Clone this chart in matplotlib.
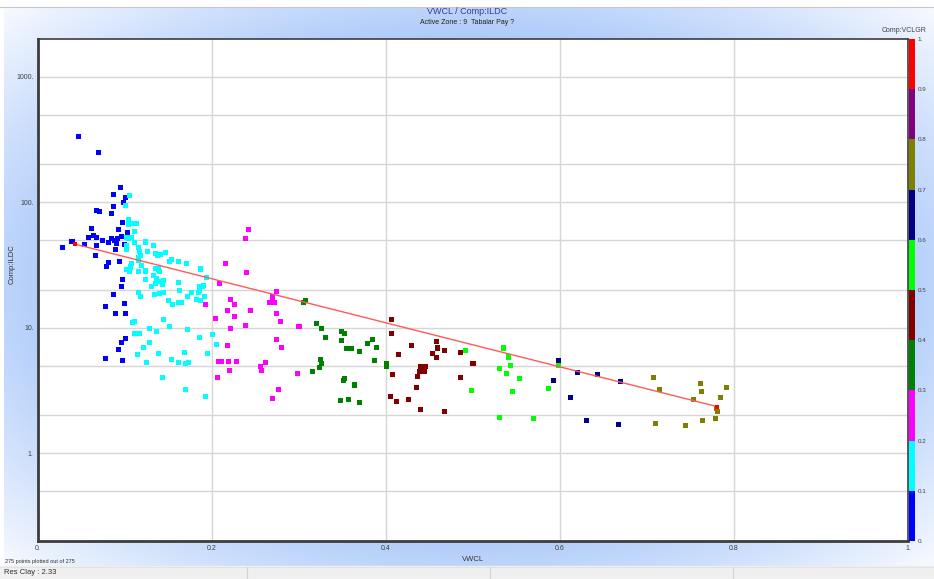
import numpy as np
import matplotlib.pyplot as plt
from matplotlib.colors import ListedColormap, BoundaryNorm
from matplotlib.patches import Rectangle

plt.rcParams['font.family'] = ['Liberation Sans', 'DejaVu Sans']

# Comp:VCLGR bins and their colours
bin_edges = [0, .1, .2, .3, .4, .5, .6, .7, .8, .9, 1.]
bin_colors = ['#0000ff', '#00ffff', '#ff00ff', '#008000', '#800000',
              '#00ff00', '#000080', '#808000', '#800080', '#ff0000']

# VWCL / Comp:ILDC per VCLGR bin
vwcl_00 = [0.046, 0.070, 0.095, 0.087, 0.101, 0.098, 0.087, 0.067, 0.071, 0.085,
           0.097, 0.061, 0.092, 0.103, 0.064, 0.067, 0.058, 0.096, 0.074, 0.084,
           0.088, 0.091, 0.090, 0.081, 0.038, 0.040, 0.028, 0.053, 0.067, 0.099,
           0.089, 0.066, 0.094, 0.081, 0.079, 0.097, 0.096, 0.087, 0.099, 0.078,
           0.089, 0.101, 0.101, 0.096, 0.092, 0.078, 0.097]
ildc_00 = [336, 249, 131, 116, 109, 99.5, 93, 86, 85, 81,
           69, 62, 61, 57.5, 54, 52.5, 52, 53, 50, 51,
           49.3, 51.2, 47, 48, 48.8, 48.8, 44, 46.4, 45.6, 45.8,
           42, 38, 34, 33, 31, 24.2, 21.3, 18.4, 15.6, 14.7,
           13.1, 12.9, 8.2, 7.6, 6.7, 5.7, 5.45]

vwcl_01 = [0.105, 0.101, 0.104, 0.104, 0.109, 0.113, 0.111, 0.102, 0.104, 0.108,
           0.111, 0.123, 0.124, 0.133, 0.102, 0.102, 0.116, 0.117, 0.126, 0.135,
           0.137, 0.141, 0.146, 0.118, 0.116, 0.115, 0.151, 0.154, 0.161, 0.171,
           0.107, 0.106, 0.102, 0.105, 0.119, 0.116, 0.123, 0.124, 0.135, 0.138,
           0.140, 0.133, 0.136, 0.138, 0.135, 0.144, 0.143, 0.131, 0.124, 0.162,
           0.163, 0.187, 0.194, 0.186, 0.189, 0.190, 0.186, 0.184, 0.182, 0.191,
           0.187, 0.176, 0.172, 0.165, 0.115, 0.118, 0.134, 0.140, 0.144, 0.150,
           0.155, 0.162, 0.144, 0.111, 0.109, 0.151, 0.128, 0.136, 0.111, 0.117,
           0.172, 0.128, 0.121, 0.138, 0.114, 0.153, 0.125, 0.161, 0.169, 0.173,
           0.186, 0.201, 0.205, 0.195, 0.168, 0.143, 0.170, 0.192]
ildc_01 = [114, 94, 72.4, 67, 67.5, 67.5, 58, 52, 51, 52,
           48, 49, 47.5, 45, 45.6, 42, 43.7, 40.8, 40.6, 38.9,
           38, 38.2, 39.8, 38, 36, 34.3, 34, 35, 34, 32.4,
           32.8, 30.5, 29.2, 28.3, 31.2, 28.3, 28.7, 28.3, 29.8, 29.4,
           28.3, 26.2, 24.9, 23.5, 22.6, 24, 22.3, 21.5, 24.3, 23.1,
           19.8, 29.4, 25.1, 21.3, 21.3, 21.7, 19.7, 19, 16.9, 17.7,
           16.4, 19, 17.7, 16, 19, 17.7, 18.4, 18.6, 19.1, 16.5,
           15.2, 16, 11.7, 11.2, 11, 10.3, 9.9, 9.3, 9.0, 9.0,
           9.7, 7.7, 7.0, 6.2, 6.1, 5.6, 5.3, 5.3, 5.2, 5.25,
           8.3, 8.85, 7.3, 6.25, 6.4, 4.05, 3.2, 2.83]

vwcl_02 = [0.242, 0.238, 0.215, 0.240, 0.209, 0.193, 0.221, 0.226, 0.218, 0.226,
           0.244, 0.204, 0.221, 0.238, 0.274, 0.269, 0.270, 0.266, 0.272, 0.274,
           0.279, 0.300, 0.218, 0.274, 0.280, 0.207, 0.211, 0.219, 0.228, 0.220,
           0.256, 0.257, 0.262, 0.298, 0.206, 0.277, 0.270]
ildc_02 = [61, 51.5, 32.4, 27.5, 22.6, 15.2, 16.9, 15.4, 13.8, 12.2,
           13.7, 11.8, 9.8, 10.4, 19.3, 17.9, 17.2, 15.8, 16, 12.9,
           11.2, 10.3, 7.2, 8.1, 7.0, 5.4, 5.35, 5.4, 5.4, 4.6,
           4.9, 4.55, 5.25, 4.35, 4.0, 3.2, 2.73]

vwcl_03 = [0.307, 0.305, 0.320, 0.326, 0.330, 0.349, 0.352, 0.349, 0.355, 0.360,
           0.325, 0.326, 0.323, 0.315, 0.352, 0.351, 0.348, 0.357, 0.370, 0.379,
           0.384, 0.389, 0.387, 0.401, 0.401, 0.364, 0.369]
ildc_03 = [16.5, 15.9, 10.8, 9.95, 8.4, 9.3, 9.0, 7.95, 6.8, 6.8,
           5.55, 5.15, 4.8, 4.5, 3.94, 3.8, 2.65, 2.7, 6.5, 7.5,
           8.1, 7.0, 5.45, 5.15, 4.9, 3.5, 2.53]

vwcl_04 = [0.406, 0.406, 0.429, 0.414, 0.458, 0.459, 0.467, 0.454, 0.458, 0.486,
           0.500, 0.440, 0.445, 0.438, 0.444, 0.436, 0.408, 0.486, 0.435, 0.405,
           0.412, 0.426, 0.440, 0.467]
ildc_04 = [11.6, 9.0, 7.2, 6.1, 7.8, 6.9, 6.65, 6.2, 5.75, 6.3,
           5.2, 4.95, 4.9, 4.45, 4.5, 4.1, 4.24, 4.05, 3.37, 2.85,
           2.57, 2.68, 2.22, 2.17]

vwcl_05 = [0.491, 0.535, 0.541, 0.531, 0.543, 0.539, 0.553, 0.498, 0.545, 0.531,
           0.587, 0.598, 0.569]
ildc_05 = [6.65, 6.9, 5.85, 4.7, 5.0, 4.35, 3.97, 3.16, 3.09, 1.93,
           3.28, 5.0, 1.90]

vwcl_06 = [0.598, 0.592, 0.620, 0.643, 0.670, 0.612, 0.630, 0.667]
ildc_06 = [5.5, 3.78, 4.4, 4.24, 3.73, 2.8, 1.82, 1.71]

vwcl_07 = [0.708, 0.714, 0.710, 0.744, 0.753, 0.761, 0.763, 0.764, 0.779, 0.780,
           0.781, 0.784, 0.791]
ildc_07 = [4.0, 3.2, 1.73, 1.65, 2.68, 3.57, 3.12, 1.84, 1.90, 2.28,
           2.15, 2.8, 3.37]

groups = [(0.05, vwcl_00, ildc_00), (0.15, vwcl_01, ildc_01),
          (0.25, vwcl_02, ildc_02), (0.35, vwcl_03, ildc_03),
          (0.45, vwcl_04, ildc_04), (0.55, vwcl_05, ildc_05),
          (0.65, vwcl_06, ildc_06), (0.75, vwcl_07, ildc_07)]

# regression line end points
fit_x = [0.0425, 0.781]
fit_y = [46.4, 2.35]

W, H = 934, 579
fig = plt.figure(figsize=(W / 100, H / 100), dpi=100)
fig.patch.set_facecolor('white')

# panel background: blue in the middle fading to white in the corners
bg = fig.add_axes([0, 0, 1, 1], zorder=-5)
bg.set_xlim(0, W)
bg.set_ylim(H, 0)
bg.axis('off')
u = np.linspace(-1, 1, 400)
v = np.linspace(-1, 1, 300)
U, V = np.meshgrid(u, v)
d = np.sqrt(U ** 2 + V ** 2) / np.sqrt(2)
t = np.clip((1 - d) / 0.36, 0, 1)[..., None]
blue = np.array([0.69, 0.80, 0.98])
white = np.array([0.97, 0.98, 1.0])
img = white * (1 - t) + blue * t
bg.imshow(img, extent=(4, W, 566, 7), aspect='auto', interpolation='bilinear')
bg.plot([0, W], [6.5, 6.5], color='#c8c8c8', lw=0.8)
bg.add_patch(Rectangle((0, 566), W, 13, color='#f0f0f0'))
bg.plot([0, W], [566.5, 566.5], color='#e2e2e2', lw=0.8)
for xd in [247, 490, 733]:
    bg.plot([xd, xd], [567, 579], color='#d4d4d4', lw=0.8)

ax = fig.add_axes([38 / W, 1 - 541 / H, 870 / W, 502 / H])
ax.set_facecolor('white')
ax.set_yscale('log')
ax.set_xlim(0, 1)
ax.set_ylim(0.2, 2000)

cmap = ListedColormap(bin_colors)
norm = BoundaryNorm(bin_edges, cmap.N)
for val, xs, ys in groups:
    ax.scatter(xs, ys, c=[val] * len(xs), cmap=cmap, norm=norm,
               marker='s', s=13, linewidths=0, zorder=3)
ax.plot(fit_x, fit_y, color='#ff5a5a', lw=1, zorder=4)
ax.scatter(fit_x, fit_y, color='#ff0000', marker='s', s=9, linewidths=0, zorder=5)

ax.set_xticks([0, 0.2, 0.4, 0.6, 0.8, 1.0])
ax.set_xticklabels(['0.', '0.2', '0.4', '0.6', '0.8', '1.'])
ax.set_yticks([1, 10, 100, 1000])
ax.set_yticklabels(['1.', '10.', '100.', '1000.'])
ax.set_yticks([0.5, 2, 5, 20, 50, 200, 500], minor=True)
ax.yaxis.set_minor_formatter(plt.NullFormatter())
ax.tick_params(which='both', length=0, labelsize=5, colors='#404040', pad=3)
ax.grid(True, which='both', color='#d6d6d6', lw=1)
ax.set_axisbelow(True)
for sp in ax.spines.values():
    sp.set_color('#3c3c3c')
    sp.set_linewidth(1.2)
ax.spines['left'].set_linewidth(2)
ax.spines['bottom'].set_linewidth(2)

ax.set_xlabel('VWCL', fontsize=5.5, color='#333333', labelpad=3)
fig.text(12 / W, 1 - 264 / H, 'Comp:ILDC', rotation=90, ha='center',
         va='center', fontsize=5.5, color='#333333')

# VCLGR colour scale
cax = fig.add_axes([909 / W, 1 - 541 / H, 6 / W, 502 / H])
cb = fig.colorbar(plt.cm.ScalarMappable(norm=norm, cmap=cmap), cax=cax,
                  ticks=bin_edges)
cb.set_ticklabels(['0.', '0.1', '0.2', '0.3', '0.4', '0.5', '0.6', '0.7',
                   '0.8', '0.9', '1.'])
cb.outline.set_visible(False)
cax.tick_params(length=0, labelsize=4.5, colors='#404040', pad=2)

fig.text(467 / W, 1 - 11 / H, 'VWCL / Comp:ILDC', ha='center', va='center',
         fontsize=6.5, color='#3a3a9a')
fig.text(467 / W, 1 - 22 / H, 'Active Zone : 9  Tabalar Pay ?', ha='center',
         va='center', fontsize=5, color='#202020')
fig.text(926 / W, 1 - 31 / H, 'Comp:VCLGR', ha='right', va='center',
         fontsize=5, color='#404040')
fig.text(5 / W, 1 - 562 / H, '275 points plotted out of 275', ha='left',
         va='center', fontsize=4, color='#303030')
fig.text(4 / W, 1 - 573 / H, 'Res Clay : 2.33', ha='left', va='center',
         fontsize=5.5, color='#303030')

fig.savefig('out.png', dpi=100)
